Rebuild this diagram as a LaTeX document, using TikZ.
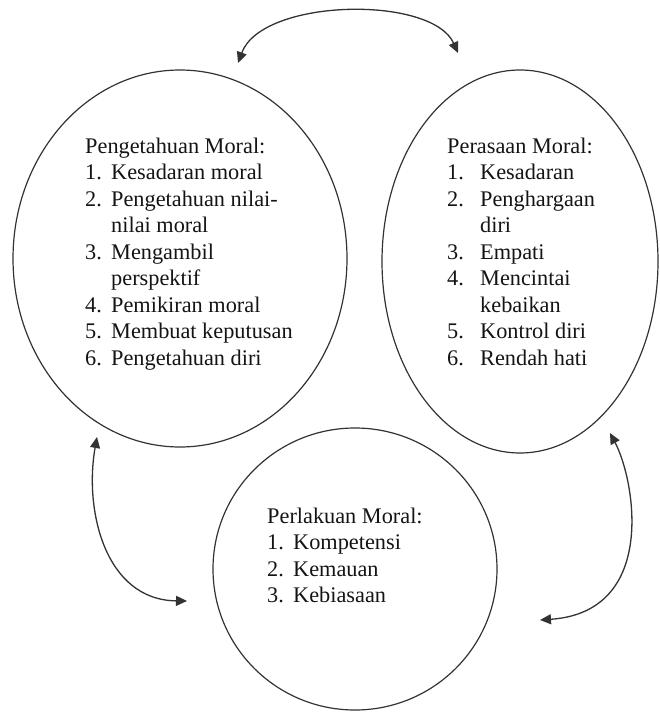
\documentclass[tikz,border=0pt]{standalone}
\usepackage{fontspec}
\setmainfont{Liberation Serif}
\usetikzlibrary{shapes.geometric,arrows.meta}
\begin{document}
\begin{tikzpicture}[x=1pt,y=-1pt,
  circ/.style={draw=black!80, line width=1.2pt, ellipse, inner sep=0pt},
  lbl/.style={anchor=base west, inner sep=0pt, font=\fontsize{22.3}{26.5}\selectfont, text=black!92},
  conn/.style={draw=black!80, line width=1.3pt, {Triangle[length=11pt,width=10pt]}-{Triangle[length=11pt,width=10pt]}}]
\useasboundingbox (0,0) rectangle (660,712);
% circles
\node[circ, minimum width=334pt, minimum height=377pt] (pk) at (180,258.5) {};
\node[circ, minimum width=276pt, minimum height=383pt] (pr) at (520,261.5) {};
\node[circ, minimum width=284pt, minimum height=282pt] (pl) at (355,569) {};
% texts
\node[lbl] (tpk) at (85,153) {\begin{tabular}[t]{@{}p{26pt}@{}l@{}}
\multicolumn{2}{@{}l@{}}{Pengetahuan Moral:}\\
1. & Kesadaran moral\\
2. & Pengetahuan nilai-\\
   & nilai moral\\
3. & Mengambil\\
   & perspektif\\
4. & Pemikiran moral\\
5. & Membuat keputusan\\
6. & Pengetahuan diri
\end{tabular}};
\node[lbl] (tpr) at (447,153) {\begin{tabular}[t]{@{}p{33pt}@{}l@{}}
\multicolumn{2}{@{}l@{}}{Perasaan Moral:}\\
1. & Kesadaran\\
2. & Penghargaan\\
   & diri\\
3. & Empati\\
4. & Mencintai\\
   & kebaikan\\
5. & Kontrol diri\\
6. & Rendah hati
\end{tabular}};
\node[lbl] (tpl) at (267,523) {\begin{tabular}[t]{@{}p{26pt}@{}l@{}}
\multicolumn{2}{@{}l@{}}{Perlakuan Moral:}\\
1. & Kompetensi\\
2. & Kemauan\\
3. & Kebiasaan
\end{tabular}};
% arrow ends
\coordinate (a1) at (238,63);
\coordinate (a2) at (458,53);
\coordinate (b1) at (97,437);
\coordinate (b2) at (187,601);
\coordinate (c1) at (610,433);
\coordinate (c2) at (540,620);
\draw[conn] (a1) .. controls (262,-2) and (432,-5) .. (a2);
\draw[conn] (b1) .. controls (84,510) and (105,600) .. (b2);
\draw[conn] (c1) .. controls (635,480) and (658,612) .. (c2);
\end{tikzpicture}
\end{document}
